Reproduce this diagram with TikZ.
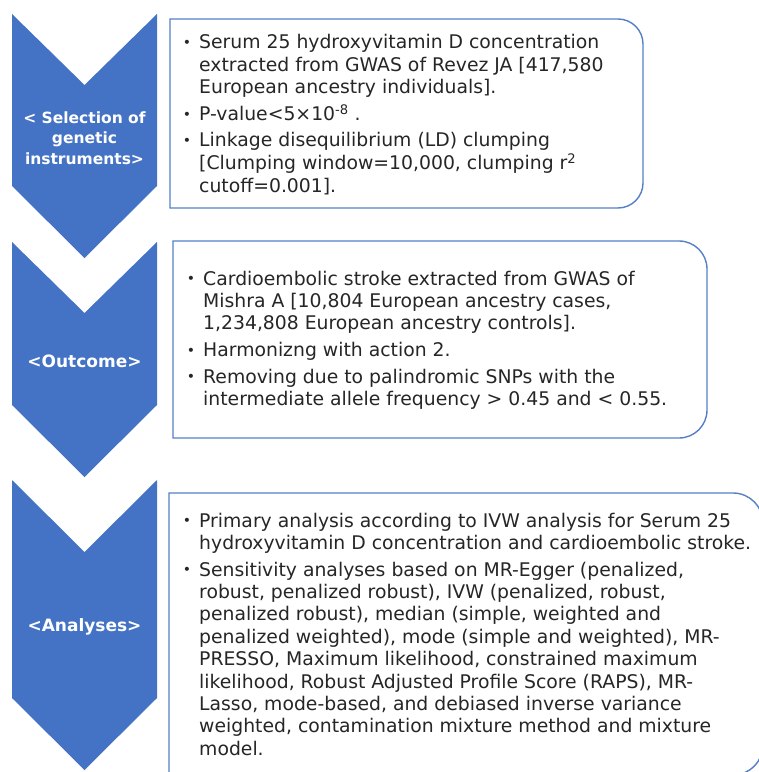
\documentclass[tikz,border=0pt]{standalone}
\usepackage{fontspec}
\setmainfont{DejaVu Sans}
\definecolor{chevblue}{HTML}{4472C4}
\definecolor{panelblue}{HTML}{5580C8}
\newcommand\bul{\llap{\raisebox{1.5bp}{\fontsize{14bp}{14bp}\selectfont •}\hspace{8bp}}}
\newcommand\rbox[5]{%
  \draw[panel] (#1,#2) -- ({#3-#5},#2)
    .. controls ({#3-#5+0.552*#5},#2) and (#3,{#2+#5-0.552*#5}) .. (#3,{#2+#5})
    -- (#3,{#4-#5})
    .. controls (#3,{#4-#5+0.552*#5}) and ({#3-#5+0.552*#5},#4) .. ({#3-#5},#4)
    -- (#1,#4) -- cycle;}
\begin{document}
\begin{tikzpicture}[x=1bp,y=-1bp,
  chevron/.style={fill=chevblue, draw=none},
  panel/.style={draw=panelblue, line width=1.4bp},
  steplabel/.style={text=white, font=\fontsize{15.5bp}{20.5bp}\selectfont\bfseries, align=center, inner sep=0},
  biglabel/.style={steplabel, font=\fontsize{17bp}{20.5bp}\selectfont\bfseries},
  bodytext/.style={anchor=base west, inner sep=0, text=black!85, font=\fontsize{18.8bp}{22.4bp}\selectfont}]
\fill[white] (0,0) rectangle (759,772);
\useasboundingbox (0,0) rectangle (759,772);
\clip (0,0) rectangle (759,772);

% chevrons
\path[chevron] (12,14) -- (84.5,85) -- (157,14) -- (157,186) -- (84.5,258) -- (12,186) -- cycle;
\path[chevron] (12,242) -- (84.5,313) -- (157,242) -- (157,405) -- (84.5,477) -- (12,405) -- cycle;
\path[chevron] (12,480) -- (84.5,552) -- (157,480) -- (157,698) -- (84.5,770) -- (12,698) -- cycle;

\node[steplabel] (lab1) at (84.5,138) {< Selection of\\genetic\\instruments>};
\node[biglabel] (lab2) at (84.5,361) {<Outcome>};
\node[biglabel] (lab3) at (84.5,627) {<Analyses>};

% panels
\rbox{170}{19}{643}{208}{25}
\rbox{173}{241}{707}{438}{28}
\rbox{169}{493}{763}{775}{30}

\node[bodytext] (t1) at (199,49) {\begin{tabular}[t]{@{}l@{}}
\bul Serum 25 hydroxyvitamin D concentration\\
extracted from GWAS of Revez JA [417,580\\
European ancestry individuals].\\[4bp]
\bul P-value<5×10\textsuperscript{-8} .\\[4bp]
\bul Linkage disequilibrium (LD) clumping\\
{[}Clumping window=10,000, clumping r\textsuperscript{2}\\
cutoff=0.001].
\end{tabular}};

\node[bodytext] (t2) at (203,285) {\begin{tabular}[t]{@{}l@{}}
\bul Cardioembolic stroke extracted from GWAS of\\
Mishra A [10,804 European ancestry cases,\\
1,234,808 European ancestry controls].\\[4.3bp]
\bul Harmonizng with action 2.\\[4.3bp]
\bul Removing due to palindromic SNPs with the\\
intermediate allele frequency > 0.45 and < 0.55.
\end{tabular}};

\node[bodytext] (t3) at (199,527) {\begin{tabular}[t]{@{}l@{}}
\bul Primary analysis according to IVW analysis for Serum 25\\
hydroxyvitamin D concentration and cardioembolic stroke.\\[4.3bp]
\bul Sensitivity analyses based on MR-Egger (penalized,\\
robust, penalized robust), IVW (penalized, robust,\\
penalized robust), median (simple, weighted and\\
penalized weighted), mode (simple and weighted), MR-\\
PRESSO, Maximum likelihood, constrained maximum\\
likelihood, Robust Adjusted Profile Score (RAPS), MR-\\
Lasso, mode-based, and debiased inverse variance\\
weighted, contamination mixture method and mixture\\
model.
\end{tabular}};
\end{tikzpicture}
\end{document}
